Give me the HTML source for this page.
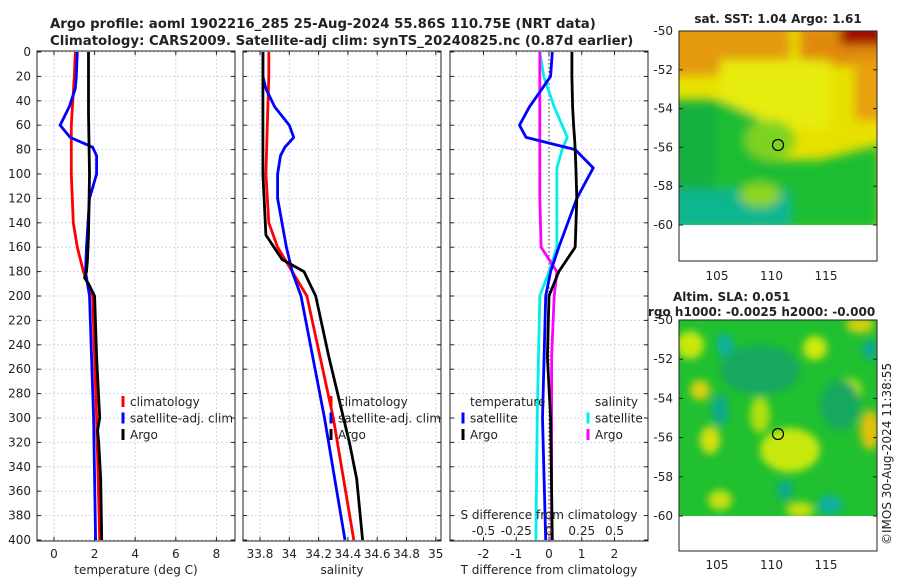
<!DOCTYPE html>
<html><head><meta charset="utf-8">
<style>
body{margin:0;background:#fff;width:900px;height:580px;overflow:hidden;font-family:"DejaVu Sans","Liberation Sans",sans-serif;}
svg text{font-family:"DejaVu Sans","Liberation Sans",sans-serif;fill:#222;}
</style></head>
<body>
<svg id="chart" width="900" height="580" xmlns="http://www.w3.org/2000/svg">
<defs>
<filter id="blur" x="-20%" y="-20%" width="140%" height="140%"><feGaussianBlur stdDeviation="5"/></filter>
<filter id="blur2" x="-20%" y="-20%" width="140%" height="140%"><feGaussianBlur stdDeviation="4"/></filter>
<clipPath id="m1"><rect x="679" y="31" width="198" height="194"/></clipPath>
<clipPath id="m2"><rect x="679" y="320" width="198" height="196"/></clipPath>
</defs>
<text x="50" y="28" font-size="13.3" font-weight="bold">Argo profile: aoml 1902216_285 25-Aug-2024 55.86S 110.75E (NRT data)</text>
<text x="50" y="45" font-size="13.3" font-weight="bold">Climatology: CARS2009. Satellite-adj clim: synTS_20240825.nc (0.87d earlier)</text>

<g>
<text x="778" y="23" font-size="12" font-weight="bold" text-anchor="middle">sat. SST: 1.04 Argo: 1.61</text>
<g clip-path="url(#m1)">
<rect x="679" y="31" width="198" height="194" fill="#e8e000"/>
<g filter="url(#blur)">
<rect x="670" y="25" width="120" height="50" fill="#e39a10"/>
<rect x="800" y="25" width="90" height="40" fill="#e08a10"/>
<rect x="840" y="25" width="45" height="20" fill="#a00000"/>
<rect x="855" y="60" width="30" height="60" fill="#e8a010"/>
<rect x="720" y="60" width="110" height="70" fill="#e6ec10"/>
<path d="M670 110 L720 100 L760 118 L770 160 L820 160 L880 145 L880 230 L670 230 Z" fill="#1dbd30"/>
<rect x="670" y="100" width="45" height="130" fill="#18b040"/>
<rect x="670" y="190" width="120" height="40" fill="#10b590"/>
<ellipse cx="770" cy="140" rx="25" ry="20" fill="#7ed320"/>
<ellipse cx="760" cy="195" rx="20" ry="12" fill="#90d520"/>
</g>
</g>
<rect x="679" y="31" width="198" height="230" fill="none" stroke="#222" stroke-width="1"/>
<circle cx="778" cy="145" r="5.5" fill="none" stroke="#000" stroke-width="1.2"/>
</g>

<g>
<g clip-path="url(#m2)">
<rect x="679" y="320" width="198" height="196" fill="#20c030"/>
<g filter="url(#blur2)">
<ellipse cx="690" cy="345" rx="14" ry="14" fill="#c8e810"/>
<ellipse cx="815" cy="348" rx="12" ry="12" fill="#d0e810"/>
<ellipse cx="860" cy="325" rx="14" ry="8" fill="#d8d010"/>
<ellipse cx="700" cy="390" rx="10" ry="10" fill="#e0d010"/>
<ellipse cx="710" cy="440" rx="10" ry="14" fill="#d8e010"/>
<ellipse cx="790" cy="450" rx="30" ry="22" fill="#c8e810"/>
<ellipse cx="760" cy="415" rx="10" ry="18" fill="#b0e010"/>
<ellipse cx="870" cy="430" rx="10" ry="20" fill="#e0c010"/>
<ellipse cx="850" cy="390" rx="12" ry="12" fill="#a8e010"/>
<ellipse cx="720" cy="500" rx="12" ry="10" fill="#c8e010"/>
<ellipse cx="800" cy="510" rx="14" ry="8" fill="#c8e010"/>
<ellipse cx="760" cy="370" rx="40" ry="25" fill="#18a860"/>
<ellipse cx="725" cy="345" rx="8" ry="12" fill="#10b0a0"/>
<ellipse cx="720" cy="410" rx="8" ry="16" fill="#10a890"/>
<ellipse cx="870" cy="350" rx="8" ry="10" fill="#10a890"/>
<ellipse cx="840" cy="405" rx="20" ry="25" fill="#18a860"/>
<ellipse cx="830" cy="505" rx="12" ry="10" fill="#10b0a0"/>
<ellipse cx="785" cy="490" rx="8" ry="10" fill="#10a890"/>
</g>
</g>
<rect x="679" y="320" width="198" height="231" fill="none" stroke="#222" stroke-width="1"/>
<circle cx="778" cy="434" r="5.5" fill="none" stroke="#000" stroke-width="1.2"/>
<text x="673" y="301" font-size="12" font-weight="bold">Altim. SLA: 0.051</text>
<text x="648" y="316" font-size="12" font-weight="bold">rgo h1000: -0.0025 h2000: -0.000</text>
</g>

<text transform="translate(891,545) rotate(-90)" font-size="12">©IMOS 30-Aug-2024 11:38:55</text>
<g id="plots"></g>
</svg>
<script>
// ---- data ----
const depthsArgo = [0, 50, 100, 150, 170, 180, 185, 190, 200, 250, 300, 310, 320, 350, 400];
const tempArgo   = [1.7, 1.7, 1.75, 1.7, 1.65, 1.6, 1.5, 1.7, 2.0, 2.1, 2.25, 2.15, 2.2, 2.3, 2.35];
const salArgo    = [33.82, 33.82, 33.82, 33.84, 33.95, 34.1, 34.12, 34.14, 34.18, 34.27, 34.37, 34.39, 34.41, 34.46, 34.5];
const depthsClim = [0, 20, 60, 100, 140, 160, 180, 200, 300, 400];
const tempClim   = [1.05, 1.0, 0.85, 0.85, 0.95, 1.15, 1.45, 1.9, 2.1, 2.25];
const salClim    = [33.86, 33.86, 33.85, 33.84, 33.86, 33.92, 34.02, 34.12, 34.3, 34.44];
const depthsSat  = [0, 20, 30, 45, 60, 70, 78, 85, 100, 120, 160, 180, 200, 300, 400];
const tempSat    = [1.15, 1.1, 1.05, 0.75, 0.3, 0.8, 1.9, 2.1, 2.1, 1.75, 1.6, 1.55, 1.75, 1.95, 2.05];
const salSat     = [33.82, 33.82, 33.84, 33.9, 34.0, 34.03, 33.97, 33.94, 33.92, 33.92, 33.98, 34.02, 34.08, 34.24, 34.38];
const depthsDiff = [0, 20, 45, 60, 70, 80, 95, 120, 160, 180, 200, 250, 300, 400];
const tDiffSat   = [0.1, 0.05, -0.6, -0.9, -0.7, 0.8, 1.35, 0.85, 0.3, 0.05, -0.1, -0.15, -0.2, -0.1];
const tDiffArgo  = [0.7, 0.7, 0.72, 0.75, 0.78, 0.8, 0.82, 0.85, 0.8, 0.3, 0.0, -0.05, 0.05, 0.1];
const sDiffSat   = [-0.07, -0.04, 0.04, 0.1, 0.14, 0.1, 0.06, 0.06, 0.06, 0.0, -0.07, -0.08, -0.09, -0.1];
const sDiffArgo  = [-0.07, -0.07, -0.07, -0.07, -0.07, -0.07, -0.07, -0.07, -0.06, 0.06, 0.04, 0.02, 0.02, 0.02];
const depthTicks = [0,20,40,60,80,100,120,140,160,180,200,220,240,260,280,300,320,340,360,380,400];
const tempTicks = [0,2,4,6,8];
const salTicks = [33.8,34,34.2,34.4,34.6,34.8,35];
const tdTicks = [-2,-1,0,1,2];
const sdTicks = [-0.5,-0.25,0,0.25,0.5];
const latTicks = [-50,-52,-54,-56,-58,-60];
const lonTicks = [105,110,115];

const NS="http://www.w3.org/2000/svg";
const root=document.getElementById('plots');
function el(tag,attrs,parent){const e=document.createElementNS(NS,tag);for(const k in attrs)e.setAttribute(k,attrs[k]);(parent||root).appendChild(e);return e;}
function txt(x,y,s,size,anchor,parent){const t=el('text',{x:x,y:y,'font-size':size,'text-anchor':anchor||'middle'},parent);t.textContent=s;return t;}
const yOf=d=>52+d*1.22;
const Y0=51, Y1=541;
const panels=[
 {name:'temperature-panel',x0:37,x1:235,sx:v=>54+v*20.3,ticks:tempTicks,label:'temperature (deg C)'},
 {name:'salinity-panel',x0:243,x1:441,sx:v=>260+(v-33.8)*146.5,ticks:salTicks,label:'salinity'},
 {name:'difference-panel',x0:450,x1:648,sx:v=>549+v*32.75,ticks:tdTicks,label:'T difference from climatology'}
];
panels.forEach((p,i)=>{
 const g=el('g',{});
 
 
 p.g=g;
 depthTicks.forEach(d=>{el('line',{x1:p.x0,x2:p.x1,y1:yOf(d),y2:yOf(d),stroke:'#c4cdee','stroke-width':0.8,'stroke-dasharray':'2,2'},g);
   el('line',{x1:p.x0,x2:p.x0+4,y1:yOf(d),y2:yOf(d),stroke:'#222'},g);el('line',{x1:p.x1-4,x2:p.x1,y1:yOf(d),y2:yOf(d),stroke:'#222'},g);});
 p.ticks.forEach(v=>{const x=p.sx(v);el('line',{x1:x,x2:x,y1:Y0,y2:Y1,stroke:'#c4cdee','stroke-width':0.8,'stroke-dasharray':'2,2'},g);
   el('line',{x1:x,x2:x,y1:Y1-4,y2:Y1,stroke:'#222'},g);el('line',{x1:x,x2:x,y1:Y0,y2:Y0+4,stroke:'#222'},g);
   const t=txt(x,558,String(v),12,'middle',g);});
 const xl=txt((p.x0+p.x1)/2,574,p.label,12,'middle',g);
 
 
 el('rect',{x:p.x0,y:Y0,width:p.x1-p.x0,height:Y1-Y0,fill:'none',stroke:'#222','stroke-width':1},g);
});
depthTicks.forEach(d=>{const t=txt(31,yOf(d)+4,String(d),12,'end');
 
 });
function line(p,xs,ds,color,name,w){
 const pts=xs.map((v,k)=>p.sx(v).toFixed(1)+','+yOf(ds[k]).toFixed(1)).join(' ');
 const l=el('polyline',{points:pts,fill:'none',stroke:color,'stroke-width':w||2.8,'stroke-linejoin':'round'},p.g);
 
 
}
const [P1,P2,P3]=panels;
line(P1,tempClim,depthsClim,'#ff0000','temp-climatology-line');
line(P1,tempSat,depthsSat,'#0000ff','temp-satellite-line');
line(P1,tempArgo,depthsArgo,'#000','temp-argo-line');
line(P2,salClim,depthsClim,'#ff0000','sal-climatology-line');
line(P2,salSat,depthsSat,'#0000ff','sal-satellite-line');
line(P2,salArgo,depthsArgo,'#000','sal-argo-line');
el('line',{x1:549,x2:549,y1:Y0,y2:Y1,stroke:'#333','stroke-dasharray':'1.5,2.5','stroke-width':1},P3.g);
const sdx=v=>v*4;
line(P3,sDiffSat.map(sdx),depthsDiff,'#00eeee','sdiff-satellite-line');
line(P3,sDiffArgo.map(sdx),depthsDiff,'#ff00ff','sdiff-argo-line');
line(P3,tDiffSat,depthsDiff,'#0000ff','tdiff-satellite-line');
line(P3,tDiffArgo,depthsDiff,'#000','tdiff-argo-line');
const sl=txt(549,519,'S difference from climatology',12,'middle',P3.g);


sdTicks.forEach(v=>{const t=txt(P3.sx(v*4),535,String(v),12,'middle',P3.g);
 
 });
function legend(x,y,color,label,parent){
 const g=el('g',{},parent);
 
 
 el('rect',{x:x-1.5,y:y-10,width:3,height:11,fill:color},g);
 txt(x+7,y,label,12,'start',g);
}
[['#ff0000','climatology'],['#0000ff','satellite-adj. clim'],['#000','Argo']].forEach((e,k)=>{
 legend(123,406+k*16.5,e[0],e[1],P1.g);legend(331,406+k*16.5,e[0],e[1],P2.g);});
txt(470,406,'temperature',12,'start',P3.g);txt(595,406,'salinity',12,'start',P3.g);
legend(463,422.5,'#0000ff','satellite',P3.g);legend(463,439,'#000','Argo',P3.g);
legend(588,422.5,'#00eeee','satellite',P3.g);legend(588,439,'#ff00ff','Argo',P3.g);
function mapAxes(y0,yLat60,xLabY){
 latTicks.forEach(v=>{const y=y0+(-50-v)*(yLat60-y0)/10;
  el('line',{x1:679,x2:683,y1:y,y2:y,stroke:'#222'});el('line',{x1:873,x2:877,y1:y,y2:y,stroke:'#222'});
  const t=txt(673,y+4,String(v),12,'end');
  
  });
 lonTicks.forEach(v=>{const x=717+(v-105)*5.45*2;
  const t=txt(x,xLabY,String(v),12,'middle');
  
  });
}
mapAxes(31,225,280);
mapAxes(320,516,569);
</script>
</body></html>
